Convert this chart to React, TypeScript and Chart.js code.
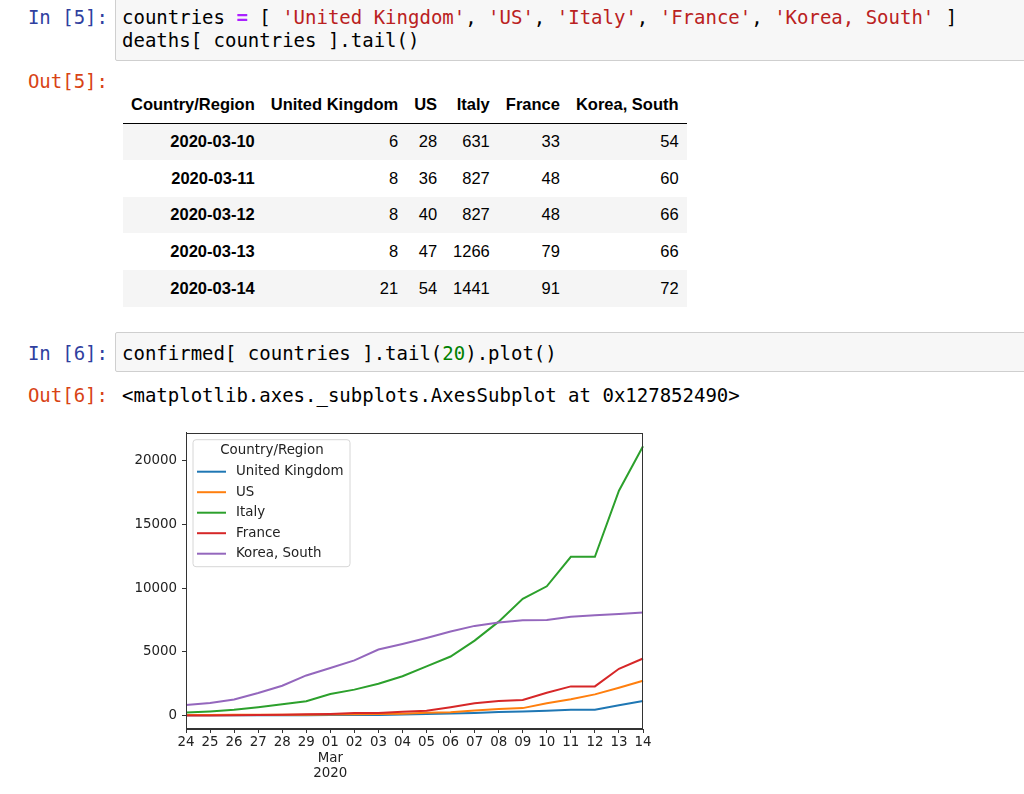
import React, { useEffect, useRef } from "react";
import { Chart, registerables } from "chart.js";

Chart.register(...registerables);

// ---------- data ----------
const countries = ["United Kingdom", "US", "Italy", "France", "Korea, South"];
const seriesColors = ["#1f77b4", "#ff7f0e", "#2ca02c", "#d62728", "#9467bd"];

// table (deaths, last 5 days)
const tableDates = ["2020-03-10", "2020-03-11", "2020-03-12", "2020-03-13", "2020-03-14"];
const deathsUK = [6, 8, 8, 8, 21];
const deathsUS = [28, 36, 40, 47, 54];
const deathsItaly = [631, 827, 827, 1266, 1441];
const deathsFrance = [33, 48, 48, 79, 91];
const deathsKorea = [54, 60, 66, 66, 72];

// chart (confirmed, last 20 days: 2020-02-24 .. 2020-03-14)
const dayLabels = ["24", "25", "26", "27", "28", "29", "01", "02", "03", "04", "05", "06", "07", "08", "09", "10", "11", "12", "13", "14"];
const monthLabel = "Mar";
const yearLabel = "2020";
const confirmedUK = [13, 13, 13, 15, 20, 23, 36, 40, 51, 86, 116, 164, 207, 274, 322, 384, 459, 459, 802, 1144];
const confirmedUS = [51, 51, 57, 58, 60, 68, 74, 98, 118, 149, 217, 262, 402, 518, 583, 959, 1281, 1663, 2179, 2726];
const confirmedItaly = [229, 322, 453, 655, 888, 1128, 1694, 2036, 2502, 3089, 3858, 4636, 5883, 7375, 9172, 10149, 12462, 12462, 17660, 21157];
const confirmedFrance = [12, 12, 18, 38, 57, 100, 130, 191, 204, 288, 380, 656, 957, 1134, 1217, 1792, 2289, 2289, 3672, 4480];
const confirmedKorea = [833, 977, 1261, 1766, 2337, 3150, 3736, 4335, 5186, 5621, 6088, 6593, 7041, 7314, 7478, 7513, 7755, 7869, 7979, 8086];
const yTicks = [0, 5000, 10000, 15000, 20000];
const yMin = -1058;
const yMax = 22215;
const legendTitle = "Country/Region";

const MONO = "'DejaVu Sans Mono', monospace";
const SANS = "'Liberation Sans', Arial, sans-serif";
const MPL = "'DejaVu Sans'";

const frameAndLegend = {
  id: "frameAndLegend",
  afterDatasetsDraw(chart: any) {
    const { ctx, chartArea: a } = chart;
    ctx.save();
    ctx.strokeStyle = "#333";
    ctx.lineWidth = 1;
    ctx.strokeRect(Math.round(a.left) + 0.5, Math.round(a.top) + 0.5, Math.round(a.right - a.left) - 1, Math.round(a.bottom - a.top) - 1);
    ctx.restore();
  },
  afterDraw(chart: any) {
    const { ctx, chartArea: a } = chart;
    const bx = a.left + 7;
    const by = a.top + 7;
    const bw = 157;
    const bh = 127;
    ctx.save();
    ctx.beginPath();
    const r = 3;
    ctx.moveTo(bx + r, by);
    ctx.arcTo(bx + bw, by, bx + bw, by + bh, r);
    ctx.arcTo(bx + bw, by + bh, bx, by + bh, r);
    ctx.arcTo(bx, by + bh, bx, by, r);
    ctx.arcTo(bx, by, bx + bw, by, r);
    ctx.closePath();
    ctx.fillStyle = "rgba(255,255,255,0.85)";
    ctx.fill();
    ctx.strokeStyle = "#d6d6d6";
    ctx.lineWidth = 1;
    ctx.stroke();
    ctx.font = `13.4px ${MPL}`;
    ctx.fillStyle = "#222";
    ctx.textBaseline = "middle";
    ctx.textAlign = "center";
    ctx.fillText(legendTitle, bx + 79, by + 11);
    ctx.textAlign = "left";
    chart.data.datasets.forEach((ds: any, i: number) => {
      const y = by + 32 + i * 20.5;
      ctx.strokeStyle = ds.borderColor;
      ctx.lineWidth = 2;
      ctx.beginPath();
      ctx.moveTo(bx + 4, y);
      ctx.lineTo(bx + 33, y);
      ctx.stroke();
      ctx.fillStyle = "#222";
      ctx.fillText(ds.label, bx + 43, y);
    });
    ctx.restore();
  },
};

function LineChart() {
  const ref = useRef<HTMLCanvasElement>(null);
  useEffect(() => {
    const series = [confirmedUK, confirmedUS, confirmedItaly, confirmedFrance, confirmedKorea];
    const labels = dayLabels.map((d) => (d === "01" ? [d, monthLabel, yearLabel] : d));
    const tickFont = { family: MPL, size: 13.4, lineHeight: 1.15 };
    const gridCfg = { display: true, drawOnChartArea: false, drawTicks: true, tickLength: 4, color: "#333", lineWidth: 1 };
    const chart = new Chart(ref.current as HTMLCanvasElement, {
      type: "line",
      data: {
        labels,
        datasets: series.map((s, i) => ({
          label: countries[i],
          data: s,
          borderColor: seriesColors[i],
          backgroundColor: seriesColors[i],
          borderWidth: 2,
          pointRadius: 0,
          tension: 0,
          fill: false,
          order: series.length - i,
        })),
      },
      options: {
        responsive: false,
        animation: false,
        devicePixelRatio: 1,
        layout: { padding: { top: 12, right: 17, left: 0, bottom: 0 } },
        plugins: { legend: { display: false }, tooltip: { enabled: false } },
        scales: {
          x: {
            type: "category",
            offset: false,
            grid: gridCfg,
            border: { display: true, color: "#333", width: 1 },
            ticks: { autoSkip: false, maxRotation: 0, minRotation: 0, padding: 2, color: "#222", font: tickFont },
            afterFit: (s: any) => {
              s.height = 65;
            },
          },
          y: {
            min: yMin,
            max: yMax,
            grid: gridCfg,
            border: { display: true, color: "#333", width: 1 },
            afterBuildTicks: (s: any) => {
              s.ticks = yTicks.map((v) => ({ value: v }));
            },
            ticks: { padding: 5, color: "#222", font: tickFont, callback: (v: any) => String(v) },
            afterFit: (s: any) => {
              s.width = 86;
            },
          },
        },
      },
      plugins: [frameAndLegend],
    } as any);
    return () => chart.destroy();
  }, []);
  return (
    <canvas
      ref={ref}
      width={560}
      height={374}
      style={{ position: "absolute", left: 100, top: 420, width: 560, height: 374 }}
    />
  );
}

const codeLine = (center: number, children: React.ReactNode) => (
  <div
    style={{
      position: "absolute",
      left: 122,
      top: center - 11.5,
      height: 23,
      lineHeight: "23px",
      fontFamily: MONO,
      fontSize: 19,
      whiteSpace: "pre",
      color: "#000",
    }}
  >
    {children}
  </div>
);

const prompt = (center: number, text: string, color: string) => (
  <div
    style={{
      position: "absolute",
      left: 0,
      width: 108,
      textAlign: "right",
      top: center - 11.5,
      height: 23,
      lineHeight: "23px",
      fontFamily: MONO,
      fontSize: 19,
      whiteSpace: "pre",
      color,
    }}
  >
    {text}
  </div>
);

const S = ({ c }: { c: string }) => <span style={{ color: "#BA2121" }}>{c}</span>;

export default function App() {
  const tableCols = [deathsUK, deathsUS, deathsItaly, deathsFrance, deathsKorea];
  const cellStyle: React.CSSProperties = {
    padding: "0 8px",
    textAlign: "right",
    verticalAlign: "middle",
    whiteSpace: "nowrap",
  };
  return (
    <div
      style={{
        position: "absolute",
        left: 0,
        top: 0,
        width: 1024,
        height: 794,
        overflow: "hidden",
        background: "#fff",
      }}
    >
      {/* cell 5 */}
      <div
        style={{
          position: "absolute",
          left: 115,
          top: -3,
          width: 940,
          height: 62,
          border: "1px solid #cfcfcf",
          background: "#f7f7f7",
          borderRadius: 2,
        }}
      />
      {prompt(17, "In [5]:", "#303F9F")}
      {codeLine(
        17,
        <>
          {"countries "}
          <span style={{ color: "#AA22FF", fontWeight: "bold" }}>=</span>
          {" [ "}
          <S c="'United Kingdom'" />
          {", "}
          <S c="'US'" />
          {", "}
          <S c="'Italy'" />
          {", "}
          <S c="'France'" />
          {", "}
          <S c="'Korea, South'" />
          {" ]"}
        </>
      )}
      {codeLine(40, "deaths[ countries ].tail()")}
      {prompt(81, "Out[5]:", "#D84315")}

      {/* table */}
      <table
        style={{
          position: "absolute",
          left: 123,
          top: 86,
          borderCollapse: "collapse",
          borderSpacing: 0,
          fontFamily: SANS,
          fontSize: 16.5,
          color: "#000",
        }}
      >
        <thead>
          <tr style={{ height: 37, borderBottom: "1px solid #000" }}>
            <th style={{ ...cellStyle, fontWeight: "bold" }}>Country/Region</th>
            {countries.map((c) => (
              <th key={c} style={{ ...cellStyle, fontWeight: "bold" }}>
                {c}
              </th>
            ))}
          </tr>
        </thead>
        <tbody>
          {tableDates.map((d, r) => (
            <tr key={d} style={{ height: 36.75, background: r % 2 === 0 ? "#f5f5f5" : "#fff" }}>
              <th style={{ ...cellStyle, fontWeight: "bold" }}>{d}</th>
              {tableCols.map((col, ci) => (
                <td key={ci} style={cellStyle}>
                  {col[r]}
                </td>
              ))}
            </tr>
          ))}
        </tbody>
      </table>

      {/* cell 6 */}
      <div
        style={{
          position: "absolute",
          left: 115,
          top: 332,
          width: 940,
          height: 38,
          border: "1px solid #cfcfcf",
          background: "#f7f7f7",
          borderRadius: 2,
        }}
      />
      {prompt(353, "In [6]:", "#303F9F")}
      {codeLine(
        353,
        <>
          {"confirmed[ countries ].tail("}
          <span style={{ color: "#008000" }}>20</span>
          {").plot()"}
        </>
      )}
      {prompt(395, "Out[6]:", "#D84315")}
      {codeLine(395, "<matplotlib.axes._subplots.AxesSubplot at 0x127852490>")}

      <LineChart />
    </div>
  );
}
